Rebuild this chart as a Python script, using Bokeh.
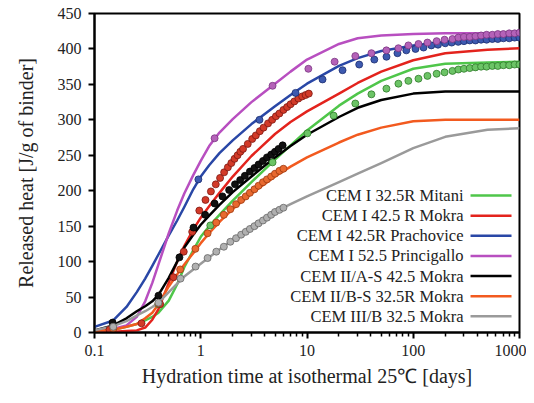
from bokeh.plotting import figure
from bokeh.models import Range1d, FixedTicker, SingleIntervalTicker, Label
from bokeh.core.properties import value
from bokeh.embed import file_html
from bokeh.resources import INLINE

# ---------------- data ----------------
x_fit = [0.1, 0.15, 0.2, 0.25, 0.3, 0.35, 0.4, 0.5, 0.6, 0.7, 0.85, 1, 1.2, 1.5, 2, 3, 5, 7, 10, 20, 30, 50, 100, 200, 500, 1000]

mitani_fit = [2, 4, 8, 12, 17, 22, 28, 45, 68, 92, 116, 135, 150, 166, 186, 212, 244, 264, 285, 320, 337, 355, 372, 379, 381, 382]
mokra425_fit = [1, 1, 2, 3, 7, 18, 33, 70, 100, 122, 145, 162, 178, 197, 220, 249, 280, 297, 312, 337, 352, 368, 384, 394, 399, 401]
prach_fit = [8, 17, 36, 57, 76, 94, 110, 137, 158, 177, 202, 220, 236, 253, 271, 294, 319, 335, 351, 376, 387, 397, 405, 410, 413, 415]
princ_fit = [2, 5, 10, 22, 44, 70, 96, 140, 172, 196, 222, 242, 263, 282, 301, 325, 351, 368, 385, 407, 415, 419, 421, 422, 422, 423]
iias_fit = [3, 10, 20, 30, 37, 44, 53, 77, 100, 120, 138, 152, 165, 180, 198, 220, 247, 263, 279, 304, 317, 328, 337, 340, 340, 340]
iibs_fit = [2, 4, 8, 12, 20, 28, 40, 65, 82, 96, 112, 126, 140, 156, 174, 196, 220, 234, 247, 268, 279, 289, 298, 300, 300, 300]
iiib_fit = [3, 9, 16, 24, 30, 36, 42, 57, 69, 79, 89, 97, 106, 117, 131, 150, 170, 181, 192, 212, 224, 239, 260, 276, 286, 288]

# measured points
mitani_x = [0.15, 0.4, 1.23, 4.74, 10.1, 17.8, 28.5, 40.4, 55.9, 72.5, 90, 112, 136, 166, 197, 234, 266, 300, 340, 385, 435, 490, 555, 625, 705, 800, 900, 1000]
mitani_y = [6, 40, 151, 240, 281, 306, 323, 336, 344, 351, 355, 358, 362, 365, 367, 369, 371, 372, 373, 374, 375, 375, 376, 376, 377, 377, 378, 378]

mokra425_x = [0.1385, 0.277, 0.415, 0.554, 0.692, 0.831, 0.969, 1.108, 1.246, 1.385, 1.52, 1.66, 1.8, 1.94, 2.08, 2.22, 2.36, 2.5, 2.77, 3.05, 3.3, 3.6, 3.9, 4.3, 4.7, 5.1, 5.5, 6.0, 6.5, 7.0, 7.6, 8.3, 9.0, 9.7, 10.4]
mokra425_y = [4, 13, 40, 78, 114, 142, 172, 187, 199, 209, 218, 226, 233, 239, 245, 250, 255, 259, 266, 273, 278, 284, 289, 295, 300, 305, 309, 314, 318, 322, 326, 330, 333, 335, 337]

prach_x = [0.95, 3.57, 7.8, 14.0, 21.6, 31, 43, 56, 71, 86, 105, 125, 148, 171, 200, 230, 265, 300, 340, 385, 435, 490, 555, 625, 705, 800, 900, 1000]
prach_y = [216, 300, 338, 357, 370, 378, 385, 389, 394, 398, 400, 402, 405, 406, 408, 409, 410, 411, 412, 412, 413, 413, 414, 414, 415, 415, 416, 416]

princ_x = [1.35, 4.74, 10.3, 18.2, 28.5, 40.4, 55.9, 72.5, 90, 112, 136, 166, 197, 234, 266, 300, 340, 385, 435, 490, 555, 625, 705, 800, 900, 1000]
princ_y = [274, 348, 372, 382, 390, 394, 398, 401, 405, 407, 409, 411, 413, 414, 416, 417, 417, 418, 419, 420, 420, 421, 421, 422, 422, 423]

iias_x = [0.148, 0.4, 0.63, 0.855, 1.1, 1.35, 1.6, 1.85, 2.1, 2.35, 2.6, 2.9, 3.2, 3.5, 3.85, 4.2, 4.6, 5.0, 5.4, 5.9]
iias_y = [14, 52, 106, 148, 166, 182, 192, 201, 209, 215, 221, 227, 232, 237, 242, 247, 251, 255, 259, 264]

iibs_x = [0.15, 0.4, 0.64, 0.89, 1.16, 1.4, 1.65, 1.9, 2.15, 2.4, 2.65, 2.9, 3.2, 3.5, 3.85, 4.2, 4.6, 5.0, 5.5, 6.0]
iibs_y = [5, 41, 89, 118, 140, 155, 166, 174, 181, 187, 192, 197, 202, 207, 212, 216, 220, 224, 228, 231]

iiib_x = [0.15, 0.4, 0.645, 0.894, 1.16, 1.4, 1.65, 1.9, 2.15, 2.4, 2.65, 2.9, 3.2, 3.5, 3.85, 4.2, 4.6, 5.0, 5.5, 6.0]
iiib_y = [8, 42, 76, 93, 105, 114, 121, 128, 133, 138, 142, 146, 150, 154, 158, 162, 166, 170, 173, 176]

labels = ["CEM I 32.5R Mitani", "CEM I 42.5 R Mokra", "CEM I 42.5R Prachovice",
          "CEM I 52.5 Princigallo", "CEM II/A-S 42.5 Mokra", "CEM II/B-S 32.5R Mokra",
          "CEM III/B 32.5 Mokra"]

x_ticks = [0.1, 1, 10, 100, 1000]
x_tick_labels = ["0.1", "1", "10", "100", "1000"]

# ---------------- styling ----------------
line_colors = ["#4fc64a", "#e3231d", "#2947a6", "#b84fc0", "#000000", "#f25a1f", "#9a9a9a"]
fill_colors = ["#6cc466", "#d23a28", "#3d5ab0", "#b462b8", "#111111", "#e8692f", "#b0b0b0"]
edge_colors = ["#2f7a2a", "#7e1812", "#1b2c6e", "#7a3582", "#000000", "#9c3a12", "#666666"]
FONT = "Liberation Serif"

fits = [mitani_fit, mokra425_fit, prach_fit, princ_fit, iias_fit, iibs_fit, iiib_fit]
pts = [(mitani_x, mitani_y), (mokra425_x, mokra425_y), (prach_x, prach_y), (princ_x, princ_y),
       (iias_x, iias_y), (iibs_x, iibs_y), (iiib_x, iiib_y)]

p = figure(width=526, height=395, x_axis_type="log",
           x_range=Range1d(0.1, 1000), y_range=Range1d(0, 450),
           output_backend="svg", toolbar_location=None,
           min_border_left=94, min_border_right=7, min_border_top=13, min_border_bottom=63)
p.grid.visible = False
p.outline_line_color = "black"
p.outline_line_width = 2
p.background_fill_color = "white"
p.border_fill_color = "white"

for f, c in zip(fits, line_colors):
    p.line(x_fit, f, line_color=c, line_width=2.5, line_join="round")

for (xs, ys), fc, ec in zip(pts, fill_colors, edge_colors):
    p.scatter(xs, ys, marker="circle", size=7, fill_color=fc, line_color=ec, line_width=0.8)

# axes
p.xaxis.ticker = FixedTicker(ticks=x_ticks,
                             minor_ticks=[m * d for d in (0.1, 1, 10, 100) for m in range(2, 10)])
p.xaxis.major_label_overrides = {t: s for t, s in zip(x_ticks, x_tick_labels)}
p.yaxis.ticker = SingleIntervalTicker(interval=50, num_minor_ticks=0)

for ax in (p.xaxis[0], p.yaxis[0]):
    ax.axis_line_width = 2
    ax.axis_line_color = "black"
    ax.major_tick_line_width = 2
    ax.major_tick_in = 0
    ax.major_tick_out = 6
    ax.minor_tick_in = 0
    ax.minor_tick_out = 4
    ax.minor_tick_line_width = 1.5
    ax.major_label_text_font = FONT
    ax.major_label_text_font_size = "16px"
    ax.major_label_text_color = "#222222"
    ax.axis_label_text_font = FONT
    ax.axis_label_text_font_size = "20px"
    ax.axis_label_text_font_style = "normal"
    ax.axis_label_text_color = "#222222"
p.yaxis.minor_tick_line_color = None
p.xaxis.major_label_standoff = 6
p.yaxis.major_label_standoff = 7
p.xaxis.axis_label = "Hydration time at isothermal 25\u2103 [days]"
p.yaxis.axis_label = "Released heat [J/g of binder]"
p.xaxis.axis_label_standoff = 6
p.yaxis.axis_label_standoff = 18

# legend (labels left of line samples, as in the reference)
leg_text_x = 297
leg_x0, leg_x1 = 346, 841
leg_top, leg_step = 193.2, 28.4
for i, (lab, c) in enumerate(zip(labels, line_colors)):
    yy = leg_top - i * leg_step
    p.add_layout(Label(x=leg_text_x, y=yy, text=lab, text_align="right", text_baseline="middle",
                       text_font=FONT, text_font_size="16.5px", text_color="#222222"))
    p.segment(x0=[leg_x0], y0=[yy], x1=[leg_x1], y1=[yy], line_color=c, line_width=2.5)

open("out.html", "w").write(file_html(p, INLINE))
